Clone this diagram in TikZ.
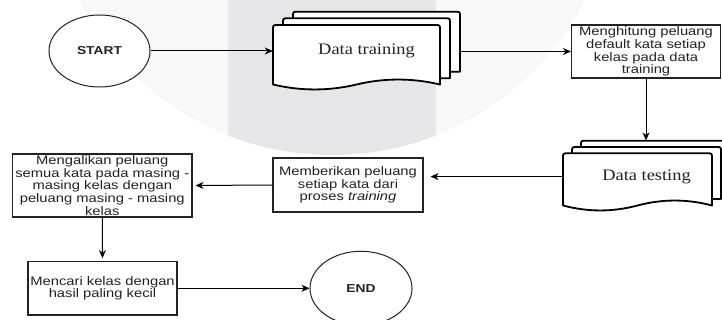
\documentclass[tikz,border=0pt]{standalone}
\usepackage{fontspec}
\usetikzlibrary{arrows.meta,shapes.geometric,calc}
\newfontfamily\boxfont{Liberation Sans}[FakeStretch=1.2]
\newfontfamily\docfont{Liberation Serif}[FakeStretch=1.15]
\definecolor{wmlight}{HTML}{F8F8F9}
\definecolor{wmdark}{HTML}{E6E6E8}
\definecolor{ink}{HTML}{222222}

\begin{document}
\begin{tikzpicture}[x=1pt,y=-1pt,
  procbox/.style={draw=ink, line width=1.1pt, fill=white, inner sep=0pt,
    align=center, text=ink, font=\boxfont\fontsize{12.3}{12.8}\selectfont},
  terminal/.style={ellipse, draw=ink, line width=1pt, fill=white, inner sep=0pt,
    minimum width=101pt, minimum height=72pt, text=ink,
    font=\boxfont\bfseries\fontsize{11.5}{13}\selectfont},
  docline/.style={draw=black, line width=1.8pt, fill=white, line join=round},
  doclabel/.style={inner sep=0pt, text=ink, font=\docfont\fontsize{16}{18}\selectfont},
  flow/.style={draw=black, line width=1pt, -{Stealth[length=8pt,width=7pt,inset=2.5pt]}}
]
\useasboundingbox (0,0) rectangle (722,320);
\clip (0,0) rectangle (722,320);

% faint emblem in the background
\fill[wmlight] (332,-129) circle[radius=284pt];
\begin{scope}
  \clip (332,-129) circle[radius=284pt];
  \fill[wmdark] (228,0) rectangle (436,200);
\end{scope}

% stacked documents: Data training
\filldraw[docline] (293,18.3) -- (293,16.7) .. controls (293,11.7) .. (298,11.7)
  -- (455,11.7) .. controls (460,11.7) .. (460,16.7) -- (460,71.7) -- (450,71.7);
\filldraw[docline] (283,25) -- (283,23.3) .. controls (283,18.3) .. (288,18.3)
  -- (445,18.3) .. controls (450,18.3) .. (450,23.3) -- (450,78.3) -- (440,78.3);
\filldraw[docline] (273,84.5) -- (273,30) .. controls (273,25) .. (278,25)
  -- (435,25) .. controls (440,25) .. (440,30) -- (440,84.5)
  .. controls (412.2,77.9) and (384.3,77.9) .. (356.5,84.5)
  .. controls (328.7,91.1) and (300.8,91.1) .. (273,84.5) -- cycle;

% stacked documents: Data testing
\filldraw[docline] (581,147) -- (581,145.7) .. controls (581,140.7) .. (586,140.7)
  -- (725,140.7) .. controls (730,140.7) .. (730,145.7) -- (730,192.7) -- (721,192.7);
\filldraw[docline] (572,153.3) -- (572,152) .. controls (572,147) .. (577,147)
  -- (716,147) .. controls (721,147) .. (721,152) -- (721,199) -- (712,199);
\filldraw[docline] (563,205.5) -- (563,158.3) .. controls (563,153.3) .. (568,153.3)
  -- (707,153.3) .. controls (712,153.3) .. (712,158.3) -- (712,205.5)
  .. controls (687.2,198.9) and (662.3,198.9) .. (637.5,205.5)
  .. controls (612.7,212.1) and (587.8,212.1) .. (563,205.5) -- cycle;

% nodes
\node[terminal] (start) at (99.5,51) {START};
\node[doclabel, minimum width=187pt, minimum height=79pt] (train) at (366.5,51) {Data training};
\node[procbox, minimum width=149pt, minimum height=53pt] (hitung) at (646,51.5)
  {Menghitung peluang\\default kata setiap\\kelas pada data\\training};
\node[doclabel, minimum width=167pt, minimum height=72pt] (test) at (646.5,176.6) {Data testing};
\node[procbox, minimum width=150pt, minimum height=54pt] (beri) at (348,185)
  {Memberikan peluang\\setiap kata dari\\proses \textit{training}};
\node[procbox, minimum width=179.5pt, minimum height=63pt] (kali) at (102.25,185.5)
  {Mengalikan peluang\\semua kata pada masing -\\masing kelas dengan\\peluang masing - masing\\kelas};
\node[procbox, minimum width=149pt, minimum height=53.3pt] (cari) at (102.5,288.3)
  {Mencari kelas dengan\\hasil paling kecil};
\node[terminal, minimum width=102pt, minimum height=74pt] (end) at (361,288.3) {END};

% connectors
\draw[flow] (start.east) -- (start.east -| train.west);
\draw[flow] (hitung.west -| train.east) -- (hitung.west);
\draw[flow] (hitung.south) -- (hitung.south |- test.north);
\draw[flow, shorten >=7pt] (test.west) -- (test.west -| beri.east);
\draw[flow, shorten >=3pt] (beri.west) -- (kali.east);
\draw[flow, shorten >=3pt] (kali.south) -- (cari.north);
\draw[flow] (cari.east) -- (end.west);
\end{tikzpicture}
\end{document}
